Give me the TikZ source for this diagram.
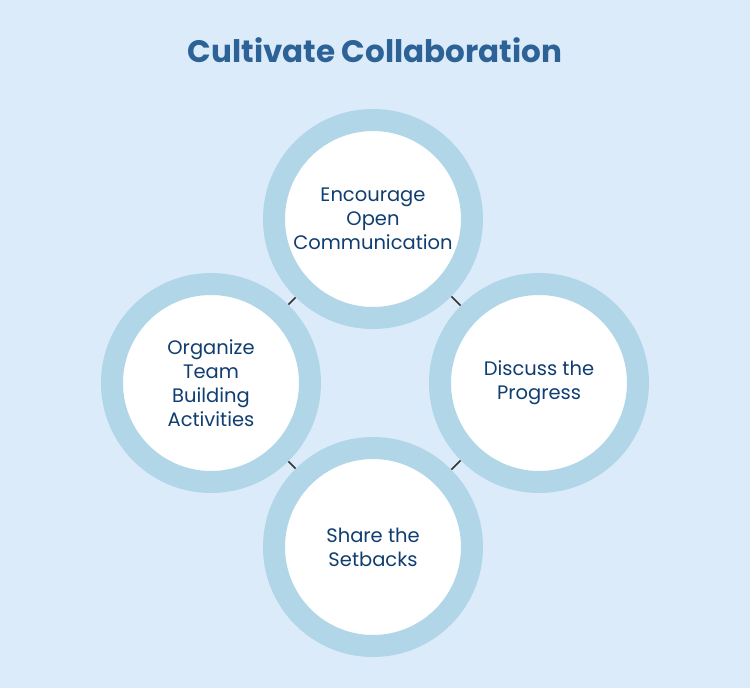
\documentclass[tikz,border=0pt]{standalone}
\usepackage{fontspec}
\setmainfont{Poppins}
\usepackage{tikz}
\definecolor{pagebg}{RGB}{219,235,250}
\definecolor{ringblue}{RGB}{176,214,232}
\definecolor{titleblue}{RGB}{44,98,150}
\definecolor{textblue}{RGB}{16,62,112}
\pgfdeclarelayer{bglayer}
\pgfdeclarelayer{edgelayer}
\pgfdeclarelayer{nodelayer}
\pgfsetlayers{bglayer,edgelayer,nodelayer,main}
\tikzstyle{ring}=[circle,fill=white,draw=ringblue,line width=22pt,minimum size=198pt,inner sep=0pt,align=center,text=textblue,font=\fontsize{19.5}{24}\selectfont]
\tikzstyle{heading}=[inner sep=0pt,text=titleblue,font=\fontsize{31}{36}\selectfont\bfseries]
\tikzstyle{link}=[-,draw=black!80,line width=1.5pt]

\begin{document}
\begin{tikzpicture}[x=1pt,y=1pt]
	\begin{pgfonlayer}{bglayer}
		\fill [pagebg] (0,0) rectangle (750,688);
	\end{pgfonlayer}
	\useasboundingbox (0,0) rectangle (750,688);
	\begin{pgfonlayer}{nodelayer}
		\node [style=heading] (title) at (375, 638) {Cultivate Collaboration};
		\node [style=ring] (open) at (373, 469) {Encourage\\Open\\Communication};
		\node [style=ring] (team) at (211, 305) {Organize\\Team\\Building\\Activities};
		\node [style=ring] (prog) at (539, 305) {Discuss the\\Progress};
		\node [style=ring] (setb) at (373, 141) {Share the\\Setbacks};
	\end{pgfonlayer}
	\begin{pgfonlayer}{edgelayer}
		\draw [style=link] (open) to (team);
		\draw [style=link] (open) to (prog);
		\draw [style=link] (team) to (setb);
		\draw [style=link] (prog) to (setb);
	\end{pgfonlayer}
\end{tikzpicture}
\end{document}
